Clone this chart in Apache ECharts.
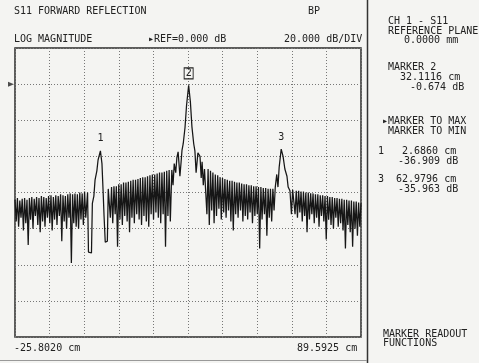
<!DOCTYPE html>
<html>
<head>
<meta charset="utf-8">
<script src="https://cdn.jsdelivr.net/npm/echarts@6/dist/echarts.min.js"></script>
<style>
html,body{margin:0;padding:0;background:#f4f4f2;}
#c{width:479px;height:363px;}
</style>
</head>
<body>
<div id="c"></div>
<script>
// ---- axis / instrument settings ----
const xStartCm = -25.802;
const xStopCm = 89.5925;
const refDb = 0;
const dbPerDiv = 20;
const yMinDb = -140;
const yMaxDb = 20;
const xDivisions = 10;

// ---- trace: comb segments with tooth spacing in cm ----
const combStep = 0.8;

const leftStart = -25.8;
const leftTops = [-64, -63, -64.5, -63.5, -63, -64, -63, -62.5, -63.5, -62.5, -63, -62, -62.5, -63, -62, -61.5, -62.5, -61.5, -62, -61, -61.5, -62, -61, -60.5, -61, -60.5, -61, -60, -60.5, -59.5];
const leftBottoms = [-76, -79, -74, -81, -77, -89, -75, -80, -73, -78, -82, -76, -79, -74, -77, -81, -75, -78, -73, -87, -76, -80, -74, -99, -77, -79, -80, -75, -78, -74];

const peak1Path = [[-1.6, -60], [-1.3, -93], [-0.3, -93.5], [0.0, -66], [0.5, -62], [0.9, -53], [1.5, -48], [1.9, -42], [2.686, -36.909], [3.2, -44], [3.6, -60], [3.9, -73], [4.3, -87.5], [5.0, -87], [5.3, -58]];

const midStart = 5.6;
const midTops = [-57.5, -57, -56.5, -56.5, -55.5, -55.5, -54.5, -54.5, -54, -53.5, -53, -53, -52.5, -52, -51.5, -51.5, -51, -50.5, -50, -50, -49.5, -49, -49, -48.5, -48, -47.5];
const midBottoms = [-74, -77, -72, -90, -75, -78, -73, -76, -82, -74, -77, -72, -75, -78, -73, -76, -79, -72, -75, -71, -74, -77, -72, -90, -73, -76];

const peak2Path = [[26.5, -47.5], [26.9, -56], [27.3, -44], [27.8, -49], [28.2, -40.5], [28.6, -37.5], [29.2, -51], [29.6, -43], [29.9, -36.5], [30.3, -33], [30.9, -24], [31.4, -12], [32.1116, -0.674], [32.7, -10], [33.2, -23.5], [33.8, -33], [34.2, -37], [34.6, -49], [35.2, -38], [35.9, -40], [36.3, -52], [36.6, -43], [37.0, -56], [37.4, -47]];

const rightStart = 37.8;
const rightTops = [-46, -47, -48, -49, -50, -50.5, -51.5, -52, -52.5, -53, -53.5, -53.5, -54, -54.5, -54.5, -55, -55.5, -55.5, -56, -56, -56.5, -56.5, -57, -57, -57.5, -57.5, -58, -58];
const rightBottoms = [-72, -78, -70, -77, -73, -69, -75, -71, -74, -70, -76, -81, -72, -74, -70, -76, -73, -75, -71, -77, -73, -72, -91, -75, -72, -84, -74, -76];

const peak3Path = [[60.2, -58], [60.6, -70], [61.0, -57], [61.5, -50], [61.9, -57], [62.3, -46], [62.9796, -35.963], [63.6, -40], [64.2, -47], [64.9, -51], [65.3, -57], [65.9, -59], [66.4, -72], [66.8, -58.5]];

const endStart = 67.2;
const endTops = [-58.5, -59, -59, -59.5, -59.5, -60, -60, -60.5, -60.5, -61, -61, -61.5, -61.5, -62, -62, -62.5, -62.5, -63, -63, -63.5, -63.5, -64, -64, -64.5, -64.5, -65, -65, -65.5];
const endBottoms = [-72, -74, -71, -76, -73, -82, -75, -72, -77, -74, -79, -73, -76, -86, -75, -78, -80, -74, -79, -77, -81, -91, -78, -82, -90, -80, -84, -79];
const lastPoint = [89.5925, -66];

// ---- markers ----
const markerNames = ['1', '2', '3'];
const markerCm = [2.686, 32.1116, 62.9796];
const markerDb = [-36.909, -0.674, -35.963];

function comb(start, tops, bottoms) {
  const pts = [];
  for (let i = 0; i < tops.length; i++) {
    pts.push([start + i * combStep, tops[i]]);
    pts.push([start + i * combStep + combStep / 2, bottoms[i]]);
  }
  return pts;
}

const trace = [].concat(
  comb(leftStart, leftTops, leftBottoms),
  peak1Path,
  comb(midStart, midTops, midBottoms),
  peak2Path,
  comb(rightStart, rightTops, rightBottoms),
  peak3Path,
  comb(endStart, endTops, endBottoms),
  [lastPoint]
);

const FONT = 'DejaVu Sans Mono';
const INK = '#222';
function txt(s, left, top) {
  return { type: 'text', left: left, top: top, style: { text: s, fill: INK, font: '10px "' + FONT + '"' } };
}

const chart = echarts.init(document.getElementById('c'), null, { renderer: 'canvas' });

const markData = markerNames.map((n, i) => ({
  name: n,
  coord: [markerCm[i], markerDb[i]],
  symbol: 'rect',
  symbolSize: [9, 11],
  symbolOffset: [0, -12],
  itemStyle: n === '2'
    ? { color: 'rgba(0,0,0,0)', borderColor: INK, borderWidth: 1 }
    : { color: 'rgba(0,0,0,0)', borderWidth: 0 },
  label: { show: true, position: 'inside', formatter: n, color: INK, fontFamily: FONT, fontSize: 10 }
}));

const option = {
  backgroundColor: '#f4f4f2',
  animation: false,
  grid: { left: 15, top: 48, width: 346, height: 289, show: true, borderColor: '#2a2a2a', borderWidth: 1.5, backgroundColor: 'transparent' },
  xAxis: [
    { type: 'value', min: 0, max: xDivisions, interval: 1, axisLine: { show: false }, axisTick: { show: false }, axisLabel: { show: false },
      splitLine: { show: true, lineStyle: { color: '#777', type: [1, 2], width: 1 } } },
    { type: 'value', min: xStartCm, max: xStopCm, show: false, splitLine: { show: false } }
  ],
  yAxis: [
    { type: 'value', min: yMinDb, max: yMaxDb, interval: dbPerDiv, axisLine: { show: false }, axisTick: { show: false }, axisLabel: { show: false },
      splitLine: { show: true, lineStyle: { color: '#777', type: [1, 2], width: 1 } } }
  ],
  series: [
    {
      type: 'line', xAxisIndex: 1, yAxisIndex: 0, data: trace, showSymbol: false, symbol: 'none',
      lineStyle: { color: '#161616', width: 1.25 }, clip: true,
      markPoint: { symbolKeepAspect: false, data: markData, animation: false }
    },
    {
      type: 'scatter', xAxisIndex: 1, yAxisIndex: 0, data: [[xStartCm, refDb]], clip: false,
      symbol: 'triangle', symbolSize: [5, 6], symbolRotate: -90, symbolOffset: [-4, 0],
      itemStyle: { color: INK }, silent: true
    }
  ],
  graphic: [
    { type: 'line', shape: { x1: 367.5, y1: 0, x2: 367.5, y2: 363 }, style: { stroke: '#333', lineWidth: 1.5 } },
    { type: 'line', shape: { x1: 0, y1: 360.5, x2: 367, y2: 360.5 }, style: { stroke: '#999', lineWidth: 1 } },
    txt('S11 FORWARD REFLECTION', 14, 6),
    txt('BP', 308, 6),
    txt('LOG MAGNITUDE', 14, 34),
    txt('\u25B8REF=' + refDb.toFixed(3) + ' dB', 148, 34),
    txt(dbPerDiv.toFixed(3) + ' dB/DIV', 284, 34),
    txt('CH 1 - S11', 388, 16),
    txt('REFERENCE PLANE', 388, 26),
    txt('0.0000 mm', 404, 35),
    txt('MARKER ' + markerNames[1], 388, 62),
    txt(markerCm[1].toFixed(4) + ' cm', 400, 72),
    txt(markerDb[1].toFixed(3) + ' dB', 410, 82),
    txt('\u25B8MARKER TO MAX', 382, 116),
    txt('MARKER TO MIN', 388, 126),
    txt(markerNames[0], 378, 146),
    txt(markerCm[0].toFixed(4) + ' cm', 402, 146),
    txt(markerDb[0].toFixed(3) + ' dB', 398, 156),
    txt(markerNames[2], 378, 174),
    txt(markerCm[2].toFixed(4) + ' cm', 396, 174),
    txt(markerDb[2].toFixed(3) + ' dB', 398, 184),
    txt('MARKER READOUT', 383, 329),
    txt('FUNCTIONS', 383, 338),
    txt(xStartCm.toFixed(4) + ' cm', 14, 343),
    txt(xStopCm.toFixed(4) + ' cm', 297, 343)
  ]
};
chart.setOption(option);
</script>
</body>
</html>
